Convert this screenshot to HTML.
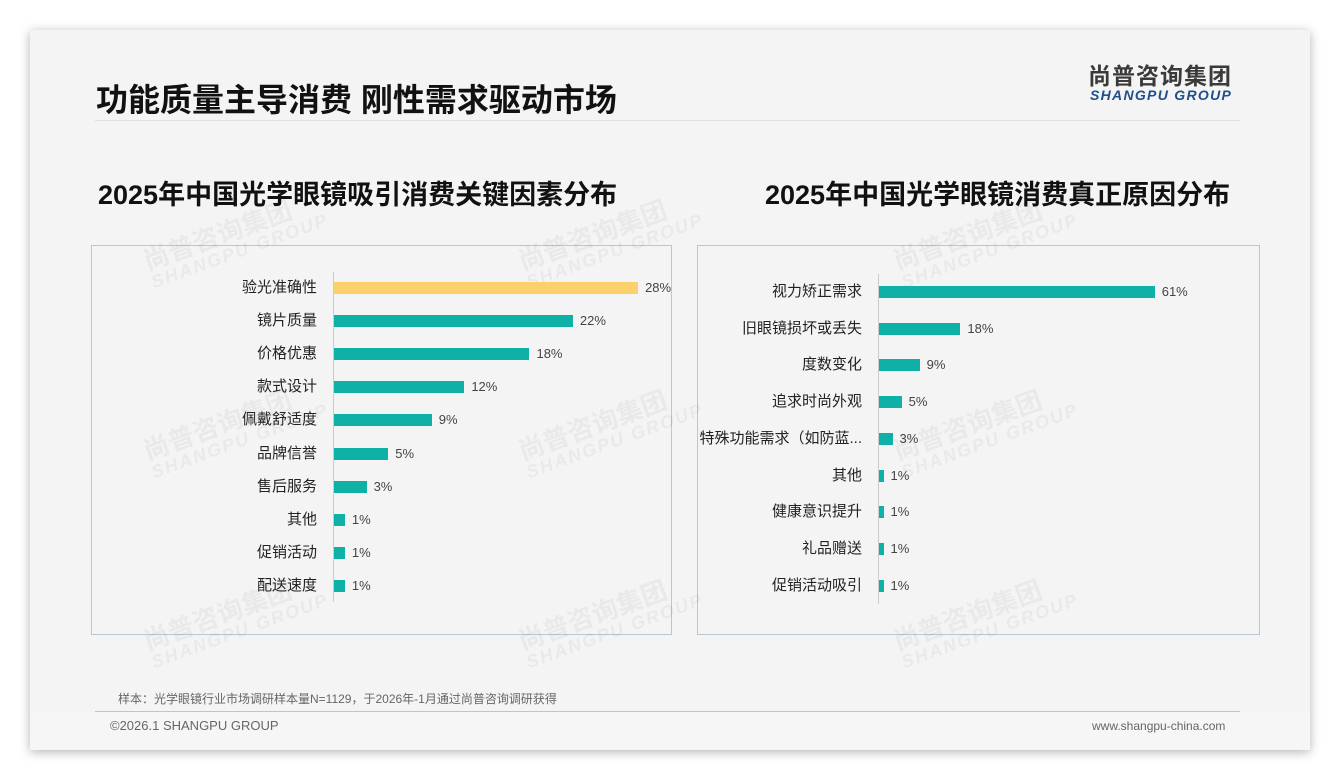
<!DOCTYPE html>
<html><head><meta charset="utf-8"><style>
*{margin:0;padding:0;box-sizing:border-box}
body{width:1340px;height:780px;background:#fff;font-family:"Liberation Sans","Noto Sans CJK SC",sans-serif;position:relative;overflow:hidden}
.slide{position:absolute;left:30px;top:30px;width:1280px;height:720px;background:#f4f4f4;box-shadow:0 2px 10px rgba(0,0,0,.3)}
.a{position:absolute;white-space:nowrap}
.panel{position:absolute;border:1px solid #b8c6d6;top:245px;height:390px}
.lab{position:absolute;font-size:15px;color:#222;text-align:right;line-height:16px}
.bar{position:absolute;height:12px}
.val{position:absolute;font-size:13px;color:#444;line-height:14px}
.wm{position:absolute;color:rgba(0,0,0,0.045);font-weight:bold;transform:rotate(-20deg);transform-origin:left top;line-height:1}
</style></head><body>
<div class="slide"></div>
<div class="a" style="left:96px;top:75px;font-size:32px;font-weight:bold;color:#111">功能质量主导消费 刚性需求驱动市场</div>
<div style="position:absolute;left:95px;top:120px;width:1145px;height:1px;background:#dde0e4"></div>
<div class="a" style="left:1088px;top:64px;font-size:23px;line-height:24px;font-weight:bold;color:#3a3a3a;letter-spacing:1px">尚普咨询集团</div>
<div class="a" style="left:1090px;top:88px;font-size:14px;line-height:15px;font-weight:bold;font-style:italic;color:#1f4e8c;letter-spacing:1.3px">SHANGPU GROUP</div>
<div class="a" style="left:98px;top:173px;font-size:27px;font-weight:bold;color:#111">2025年中国光学眼镜吸引消费关键因素分布</div>
<div class="a" style="left:765px;top:173px;font-size:27px;font-weight:bold;color:#111">2025年中国光学眼镜消费真正原因分布</div>
<div class="panel" style="left:91px;width:581px"></div>
<div class="panel" style="left:697px;width:563px"></div>
<div style="position:absolute;left:333px;top:272px;width:1px;height:330px;background:#ccc"></div>
<div style="position:absolute;left:878px;top:274px;width:1px;height:330px;background:#ccc"></div>
<div class="a" style="left:118px;top:690px;font-size:12px;color:#666">样本：光学眼镜行业市场调研样本量N=1129，于2026年-1月通过尚普咨询调研获得</div>
<div style="position:absolute;left:95px;top:711px;width:1145px;height:1px;background:#b8c6d6"></div>
<div style="position:absolute;left:30px;top:712px;width:1280px;height:38px;background:#f6f6f6"></div>
<div class="a" style="left:110px;top:718px;font-size:13px;color:#666">©2026.1 SHANGPU GROUP</div>
<div class="a" style="left:1092px;top:719px;font-size:12px;color:#666">www.shangpu-china.com</div>
<script>
function wm(x,y){document.write('<div class="wm" style="left:'+x+'px;top:'+y+'px"><div style="font-size:26px">尚普咨询集团</div><div style="font-size:18px;letter-spacing:2px;font-style:italic">SHANGPU GROUP</div></div>');}
[[140,250],[515,250],[890,250],[140,440],[515,440],[890,440],[140,630],[515,630],[890,630]].forEach(p=>wm(p[0],p[1]));
var L=[["验光准确性",28],["镜片质量",22],["价格优惠",18],["款式设计",12],["佩戴舒适度",9],["品牌信誉",5],["售后服务",3],["其他",1],["促销活动",1],["配送速度",1]];
var h="";
L.forEach((d,i)=>{var c=288+i*33.1;var w=d[1]*10.86;
h+='<div class="lab" style="left:120px;width:197px;top:'+(c-8)+'px">'+d[0]+'</div>';
h+='<div class="bar" style="left:334px;top:'+(c-6)+'px;width:'+w+'px;background:'+(i==0?'#fdd06b':'#0fb0a6')+'"></div>';
h+='<div class="val" style="left:'+(334+w+7)+'px;top:'+(c-7)+'px">'+d[1]+'%</div>';});
var R=[["视力矫正需求",61],["旧眼镜损坏或丢失",18],["度数变化",9],["追求时尚外观",5],["特殊功能需求（如防蓝...",3],["其他",1],["健康意识提升",1],["礼品赠送",1],["促销活动吸引",1]];
R.forEach((d,i)=>{var c=292+i*36.7;var w=d[1]*4.52;
h+='<div class="lab" style="left:690px;width:172px;top:'+(c-8)+'px">'+d[0]+'</div>';
h+='<div class="bar" style="left:879px;top:'+(c-6)+'px;width:'+w+'px;background:#0fb0a6"></div>';
h+='<div class="val" style="left:'+(879+w+7)+'px;top:'+(c-7)+'px">'+d[1]+'%</div>';});
document.write(h);
</script>
</body></html>
